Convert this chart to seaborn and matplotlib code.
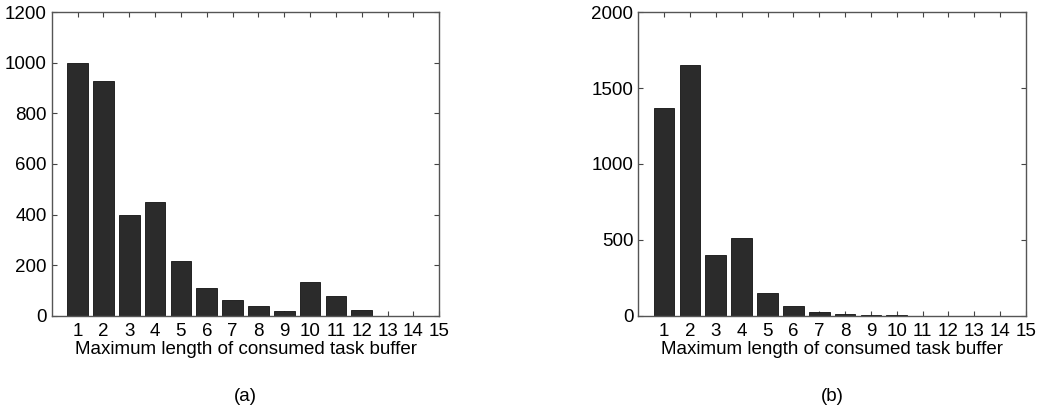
import matplotlib
matplotlib.use("Agg")
import matplotlib.pyplot as plt
import seaborn as sns
import pandas as pd

positions = list(range(1, 16))
tick_labels = [str(i) for i in positions]
counts_a = [1000, 930, 400, 448, 215, 109, 62, 37, 20, 133, 78, 22, 0, 0, 0]
counts_b = [1367, 1650, 398, 514, 147, 64, 26, 10, 3, 5, 1, 0, 0, 0, 0]
captions = ["(a)", "(b)"]
xlabel_text = "Maximum length of consumed task buffer"

sns.set_theme(style="white")
plt.rcParams["font.family"] = ["Liberation Sans", "DejaVu Sans"]

fig = plt.figure(figsize=(10.37, 4.12), dpi=100)
ax_a = fig.add_axes([0.0499, 0.2337, 0.3737, 0.7365])
ax_b = fig.add_axes([0.6155, 0.2337, 0.3739, 0.7365])

bar_color = "#2b2b2b"
for ax, counts, ymax, ystep, cap in [
    (ax_a, counts_a, 1200, 200, captions[0]),
    (ax_b, counts_b, 2000, 500, captions[1]),
]:
    df = pd.DataFrame({"pos": positions, "count": counts})
    sns.barplot(data=df, x="pos", y="count", native_scale=True, width=0.8,
                color=bar_color, saturation=1, edgecolor="#111111",
                linewidth=0.6, ax=ax)
    ax.set_xlim(0, 15)
    ax.set_ylim(0, ymax)
    ax.set_xticks(positions)
    ax.set_xticklabels(tick_labels)
    ax.set_yticks(list(range(0, ymax + 1, ystep)))
    ax.tick_params(axis="both", which="both", direction="in", length=3.5,
                   width=0.8, color="#444444", labelsize=13.5,
                   labelcolor="black", top=True, right=True,
                   bottom=True, left=True)
    ax.tick_params(axis="x", pad=5)
    ax.tick_params(axis="y", pad=3.5)
    for sp in ax.spines.values():
        sp.set_visible(True)
        sp.set_color("#555555")
        sp.set_linewidth(1.0)
    ax.set_xlabel(xlabel_text, fontsize=13.5, labelpad=1, color="black")
    ax.set_ylabel("")
    ax.text(0.5, -0.265, cap, transform=ax.transAxes, ha="center",
            va="center", fontsize=13.5, color="black")

fig.savefig("out.png", dpi=100, facecolor="white")
